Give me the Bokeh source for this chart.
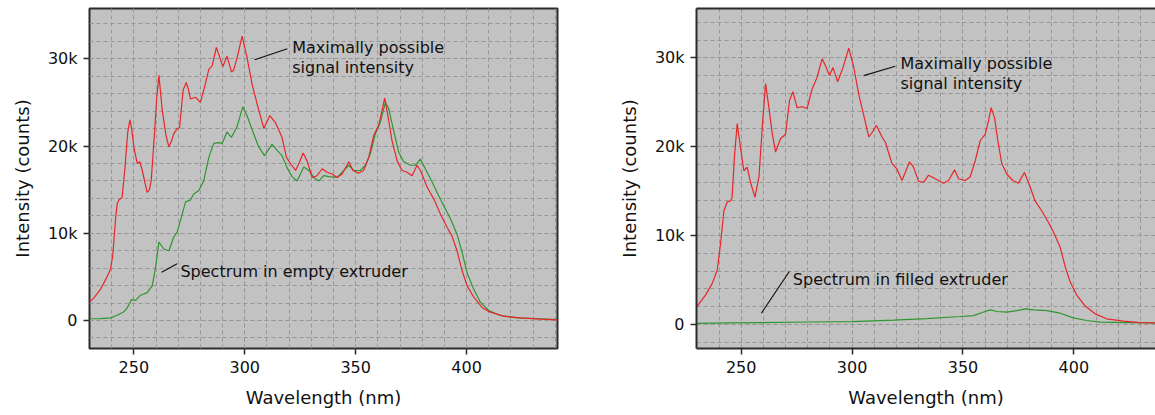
from bokeh.plotting import figure
from bokeh.layouts import row
from bokeh.models import (Range1d, SingleIntervalTicker, NumeralTickFormatter,
                          LinearAxis, FixedTicker, ColumnDataSource)
from bokeh.core.properties import value
from bokeh.embed import file_html
from bokeh.resources import INLINE

# ---------------- data (wavelength in nm, intensity in thousands of counts) ----------------
left_red_nm = [230, 232, 235, 237.5, 239.5, 240.5, 241.8, 242.5, 243.2, 244.7, 246, 247.2, 248.2,
               249, 250, 251.5, 252.7, 253.8, 255, 256, 257, 257.8, 259.3, 260.3, 261.3, 262.8,
               264.5, 265.8, 267, 268, 269.5, 270.6, 272.2, 273.6, 274.5, 275.5, 277.8, 280,
               281.8, 283.8, 285.3, 287.2, 289, 290.1, 292, 294, 295, 296.8, 298.8, 301, 303.3,
               305.6, 308.6, 311.3, 313.8, 316.8, 318.8, 320.6, 322.9, 324.4, 326.3, 328.1,
               330.4, 332.6, 334.9, 337.1, 339.4, 341.6, 343.9, 346.9, 348.8, 351.4, 353.6,
               355.9, 358.1, 360.4, 361.9, 363.1, 364.4, 366.4, 368.7, 370.9, 373.2, 375.4,
               377.7, 379.2, 382.2, 385.5, 388.2, 391.2, 393.4, 395.7, 398, 400.2, 403.2, 407,
               410.7, 416.7, 424.2, 433.2, 441]
left_red_k = [2.1, 2.6, 3.6, 4.8, 5.9, 7.5, 11.8, 13.4, 13.8, 14.1, 17.5, 21.5, 23.0,
              22.0, 19.9, 18.0, 18.2, 17.2, 15.8, 14.7, 15.0, 16.0, 21.4, 25.5, 28.1, 24.1,
              21.2, 19.9, 20.6, 21.4, 22.0, 22.1, 26.4, 27.3, 26.6, 25.4, 25.6, 25.0,
              26.7, 28.8, 29.2, 31.3, 30.0, 29.1, 30.3, 28.5, 28.7, 30.4, 32.6, 30.2, 27.1,
              24.8, 22.0, 23.5, 22.7, 21.0, 18.7, 18.0, 17.2, 18.0, 19.2, 18.3,
              16.4, 16.6, 17.4, 17.0, 16.8, 16.4, 16.8, 18.2, 17.2, 16.9, 17.2,
              18.7, 21.2, 22.4, 24.1, 25.5, 23.7, 20.6, 18.3, 17.2, 17.0, 16.6,
              17.8, 17.2, 15.3, 13.8, 12.2, 10.7, 9.7, 8.0, 5.7, 4.0, 2.7, 1.5,
              0.96, 0.5, 0.3, 0.15, 0.08]

left_green_nm = [230, 235, 239.5, 242.5, 245.5, 247, 249, 250.8, 253, 256, 258.3, 259.8, 261.3,
                 263.5, 265.8, 268, 269.5, 271.8, 273.3, 275.5, 277, 279.3, 281.5, 283.8, 286,
                 288.3, 289.8, 292, 294, 296.5, 299.1, 301, 304, 306.3, 308.9, 312.3, 314.6,
                 316.8, 319.1, 321.3, 323.6, 326.6, 328.9, 331.1, 333.4, 335.6, 337.9, 341.6,
                 343.9, 346.9, 349.1, 352.1, 354.4, 356.6, 358.9, 361.1, 363.4, 364.9, 367.1,
                 369.4, 371.7, 374.7, 376.9, 379.2, 381.4, 384.4, 388.2, 392.7, 395.7, 398,
                 400.2, 403.2, 406.2, 410, 415.2, 422.7, 433.2, 441]
left_green_k = [0.2, 0.22, 0.3, 0.6, 1.0, 1.45, 2.4, 2.3, 2.9, 3.2, 4.0, 6.1, 9.0,
                8.2, 8.0, 9.6, 10.1, 12.2, 13.6, 13.8, 14.5, 14.9, 16.0, 18.7, 20.3,
                20.4, 20.3, 21.6, 21.0, 22.2, 24.5, 23.5, 21.4, 19.9, 18.9, 20.2, 19.5,
                18.9, 17.5, 16.5, 16.0, 17.6, 17.2, 16.4, 16.0, 16.6, 16.5, 16.4,
                17.0, 17.8, 17.2, 17.2, 17.8, 19.1, 21.4, 22.7, 25.0, 24.3, 21.8,
                19.3, 18.2, 17.8, 17.8, 18.5, 17.4, 15.9, 13.9, 11.7, 9.9, 7.8,
                5.5, 3.6, 2.1, 1.15, 0.57, 0.3, 0.2, 0.1]

right_red_nm = [230, 233.9, 236.9, 239.2, 240.7, 242.2, 243.7, 245.2, 245.9, 247, 248.2, 249.7,
                251.2, 252.7, 254.2, 256.2, 258, 259.5, 261, 262.5, 264, 265.5, 267.7, 270,
                271.8, 273.3, 275.2, 277.5, 279.7, 282, 284.2, 286.5, 288, 289.8, 291.4,
                293.5, 295.9, 298.5, 300.8, 303, 305.3, 307.5, 309, 311, 313.5, 315, 318,
                320.2, 322.5, 325.9, 327.7, 330, 332.2, 334.5, 337.5, 341.2, 343.5, 346.2,
                348, 351, 353.2, 355.5, 357.8, 360, 361.5, 362.7, 364.2, 365.7, 367.5,
                369.8, 372.5, 375, 377.7, 379.5, 382.5, 385.5, 388.5, 390.8, 393.8, 396,
                398.3, 401.3, 405, 409.6, 414.8, 422.3, 429.8, 436.6, 441]
right_red_k = [2.0, 3.3, 4.6, 6.1, 9.1, 12.8, 13.8, 13.9, 14.3, 19.0, 22.6, 19.9,
               17.3, 17.7, 16.0, 14.3, 16.6, 22.2, 27.1, 24.4, 21.5, 19.4, 20.9, 21.4,
               25.2, 26.2, 24.4, 24.5, 24.3, 26.5, 27.8, 29.9, 29.1, 28.0, 28.9,
               27.3, 28.9, 31.1, 28.9, 25.9, 23.5, 21.1, 21.6, 22.4, 21.1, 20.5, 18.1,
               17.5, 16.2, 18.3, 17.7, 16.1, 16.0, 16.8, 16.4, 15.9, 16.2, 17.4,
               16.4, 16.2, 16.6, 18.4, 20.7, 21.4, 22.9, 24.4, 23.3, 20.7, 18.1,
               16.9, 16.2, 15.9, 17.1, 16.0, 13.9, 12.8, 11.5, 10.4, 8.7, 6.6,
               4.8, 3.3, 2.1, 1.2, 0.64, 0.37, 0.22, 0.19, 0.18]

right_green_nm = [230, 245, 260, 280, 300, 318.7, 333.7, 348.7, 354.8, 359.3, 362.3, 365.3,
                  369.8, 374.3, 378.3, 381.8, 387.8, 393.8, 399.8, 405.8, 411.8, 423.8, 436.6, 441]
right_green_k = [0.12, 0.18, 0.22, 0.28, 0.32, 0.5, 0.67, 0.9, 1.0, 1.4, 1.65, 1.46,
                 1.4, 1.57, 1.76, 1.65, 1.57, 1.27, 0.75, 0.45, 0.26, 0.22, 0.19, 0.18]

x_label = "Wavelength (nm)"
y_label = "Intensity (counts)"
top_note = ["Maximally possible", "signal intensity"]
left_note = "Spectrum in empty extruder"
right_note = "Spectrum in filled extruder"

# ---------------- styling ----------------
RED = "#e8262a"
GREEN = "#2f962f"
BG = "#c2c2c2"
GRID = "#979797"
FRAME = "#2b2b2b"
FONT = "DejaVu Sans"
TXT = "#111111"


def make_fig(width, border_left, border_right, xr, yr, outline):
    p = figure(width=width, height=415, output_backend="svg", toolbar_location=None,
               x_range=Range1d(*xr), y_range=Range1d(*yr),
               min_border_left=border_left, min_border_right=border_right,
               min_border_top=8, min_border_bottom=67)
    p.background_fill_color = BG
    p.border_fill_color = "white"
    if outline:
        p.outline_line_color = FRAME
        p.outline_line_width = 2
    else:
        p.outline_line_color = None
    p.xaxis.ticker = SingleIntervalTicker(interval=50, num_minor_ticks=5)
    p.yaxis.ticker = SingleIntervalTicker(interval=10000, num_minor_ticks=5)
    p.yaxis.formatter = NumeralTickFormatter(format="0a")
    for ax in (p.xaxis, p.yaxis):
        ax.axis_line_color = None if outline else FRAME
        ax.axis_line_width = 2
        ax.major_tick_line_color = FRAME
        ax.major_tick_line_width = 1.5
        ax.major_tick_in = 0
        ax.major_tick_out = 6
        ax.minor_tick_line_color = None
        ax.major_label_text_font = FONT
        ax.major_label_text_font_size = "16px"
        ax.major_label_text_color = TXT
        ax.major_label_standoff = 6
        ax.axis_label_text_font = FONT
        ax.axis_label_text_font_size = "18px"
        ax.axis_label_text_font_style = "normal"
        ax.axis_label_text_color = TXT
    p.xaxis.axis_label = x_label
    p.yaxis.axis_label = y_label
    p.xaxis.axis_label_standoff = 11
    p.yaxis.axis_label_standoff = 12
    for g in (p.xgrid, p.ygrid):
        g.grid_line_color = GRID
        g.grid_line_dash = "4 3"
        g.grid_line_width = 1
        g.minor_grid_line_color = GRID
        g.minor_grid_line_dash = "4 3"
        g.minor_grid_line_width = 1
    if not outline:
        top = LinearAxis(ticker=FixedTicker(ticks=[]), axis_line_color=FRAME, axis_line_width=2,
                         major_tick_line_color=None, minor_tick_line_color=None,
                         major_label_text_font_size="0px")
        p.add_layout(top, "above")
    return p


def add_note(p, lines, x, ys, seg):
    p.segment(x0=[seg[0]], y0=[seg[1]], x1=[seg[2]], y1=[seg[3]], line_color="#111111", line_width=1.2)
    src = ColumnDataSource(dict(x=[x] * len(lines), y=ys, t=lines))
    p.text(x="x", y="y", text="t", source=src, text_font=value(FONT), text_font_size="16px",
           text_color=TXT, text_align="left", text_baseline="alphabetic")


# left figure
p1 = make_fig(590, 89, 33, (230, 441), (-3210, 35770), True)
p1.line(left_green_nm, [k * 1000 for k in left_green_k], line_color=GREEN, line_width=1.2)
p1.line(left_red_nm, [k * 1000 for k in left_red_k], line_color=RED, line_width=1.2)
add_note(p1, top_note, 321.4, [31330, 29040], (304.5, 29890, 319.2, 31150))
add_note(p1, [left_note], 271.0, [5620], (262.5, 5540, 269.5, 6500))

# right figure
p2 = make_fig(565, 106, 0, (229.85, 436.8), (-2700, 35550), False)
p2.line(right_green_nm, [k * 1000 for k in right_green_k], line_color=GREEN, line_width=1.2)
p2.line(right_red_nm, [k * 1000 for k in right_red_k], line_color=RED, line_width=1.2)
add_note(p2, top_note, 321.8, [29390, 27080], (305.2, 28000, 319.5, 29050))
add_note(p2, [right_note], 273.3, [5060], (259.1, 1270, 271.7, 5960))

layout = row(p1, p2)
open("out.html", "w").write(file_html(layout, INLINE))
